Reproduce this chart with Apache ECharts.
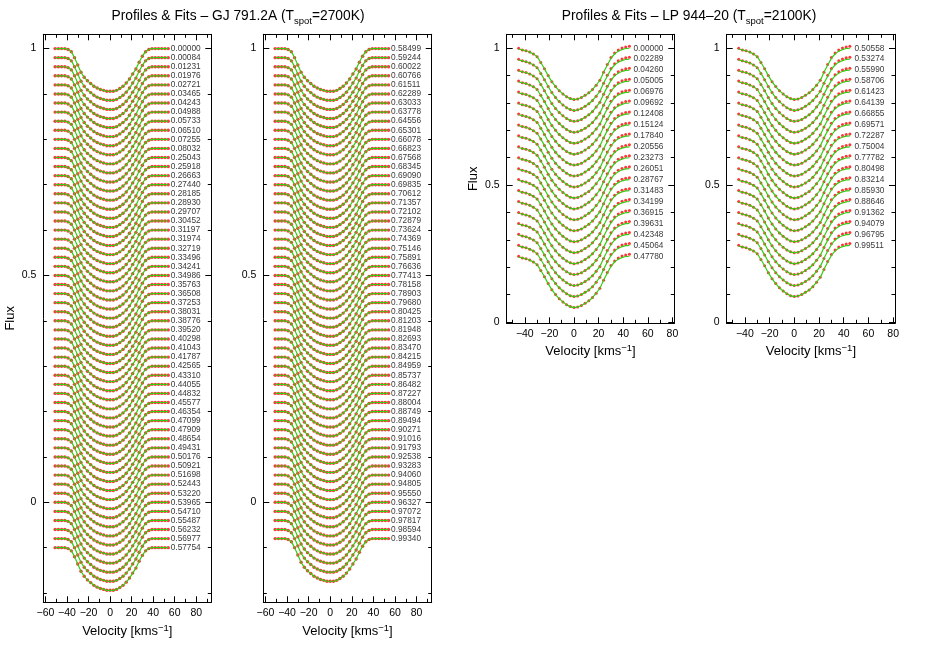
<!DOCTYPE html>
<html>
<head>
<meta charset="utf-8">
<script src="https://cdn.jsdelivr.net/npm/echarts@6.0.0/dist/echarts.min.js"></script>
<style>
  html, body { margin: 0; padding: 0; background: #fff; }
  #chart { width: 926px; height: 649px; }
</style>
</head>
<body>
<div id="chart"></div>
<script>
// rotation phases written next to each profile
const gjPhasesA = ['0.00000', '0.00084', '0.01231', '0.01976', '0.02721', '0.03465', '0.04243', '0.04988', '0.05733', '0.06510',
  '0.07255', '0.08032', '0.25043', '0.25918', '0.26663', '0.27440', '0.28185', '0.28930', '0.29707', '0.30452',
  '0.31197', '0.31974', '0.32719', '0.33496', '0.34241', '0.34986', '0.35763', '0.36508', '0.37253', '0.38031',
  '0.38776', '0.39520', '0.40298', '0.41043', '0.41787', '0.42565', '0.43310', '0.44055', '0.44832', '0.45577',
  '0.46354', '0.47099', '0.47909', '0.48654', '0.49431', '0.50176', '0.50921', '0.51698', '0.52443', '0.53220',
  '0.53965', '0.54710', '0.55487', '0.56232', '0.56977', '0.57754'];
const gjPhasesB = ['0.58499', '0.59244', '0.60022', '0.60766', '0.61511', '0.62289', '0.63033', '0.63778', '0.64556', '0.65301',
  '0.66078', '0.66823', '0.67568', '0.68345', '0.69090', '0.69835', '0.70612', '0.71357', '0.72102', '0.72879',
  '0.73624', '0.74369', '0.75146', '0.75891', '0.76636', '0.77413', '0.78158', '0.78903', '0.79680', '0.80425',
  '0.81203', '0.81948', '0.82693', '0.83470', '0.84215', '0.84959', '0.85737', '0.86482', '0.87227', '0.88004',
  '0.88749', '0.89494', '0.90271', '0.91016', '0.91793', '0.92538', '0.93283', '0.94060', '0.94805', '0.95550',
  '0.96327', '0.97072', '0.97817', '0.98594', '0.99340'];
const lpPhasesA = ['0.00000', '0.02289', '0.04260', '0.05005', '0.06976', '0.09692', '0.12408', '0.15124', '0.17840', '0.20556',
  '0.23273', '0.26051', '0.28767', '0.31483', '0.34199', '0.36915', '0.39631', '0.42348', '0.45064', '0.47780'];
const lpPhasesB = ['0.50558', '0.53274', '0.55990', '0.58706', '0.61423', '0.64139', '0.66855', '0.69571', '0.72287', '0.75004',
  '0.77782', '0.80498', '0.83214', '0.85930', '0.88646', '0.91362', '0.94079', '0.96795', '0.99511'];

// GJ 791.2A line profile: velocity (km/s) and depth below the continuum
const gjVel = [-51, -48, -45, -42, -39, -36, -33, -30, -27, -24, -21, -18, -15, -12, -9, -6, -3, 0,
  3, 6, 9, 12, 15, 18, 21, 24, 27, 30, 33, 36, 39, 42, 45, 48, 51, 54];
const gjDepth = [0, 0, 0, 0, 0.002, 0.007, 0.020, 0.036, 0.052, 0.063, 0.071, 0.077, 0.083, 0.087, 0.090, 0.092, 0.094, 0.094,
  0.094, 0.092, 0.088, 0.083, 0.076, 0.067, 0.056, 0.045, 0.030, 0.017, 0.007, 0.002, 0, 0, 0, 0, 0, 0];
const gjStep = 0.02;   // vertical shift between successive profiles

// LP 944-20 line profile: fit and observed points
const lpVel = [-45, -42, -39, -36, -33, -30, -27, -24, -21, -18, -15, -12, -9, -6, -3, 0,
  3, 6, 9, 12, 15, 18, 21, 24, 27, 30, 33, 36, 39, 42, 45];
const lpFitDepth = [0.003, 0.006, 0.009, 0.014, 0.021, 0.031, 0.052, 0.075, 0.100, 0.122, 0.140, 0.155, 0.167, 0.177, 0.184, 0.187,
  0.185, 0.180, 0.172, 0.163, 0.151, 0.135, 0.117, 0.088, 0.062, 0.038, 0.021, 0.011, 0.005, 0.001, 0.000];
const lpObsDepth = [0.000, 0.006, 0.009, 0.014, 0.021, 0.031, 0.052, 0.075, 0.100, 0.122, 0.140, 0.155, 0.167, 0.177, 0.184, 0.187,
  0.185, 0.180, 0.172, 0.163, 0.151, 0.135, 0.117, 0.088, 0.059, 0.034, 0.017, 0.006, -0.001, -0.005, -0.007];
const lpStep = 0.04;

// tick positions
const gjXMajor = [-60, -40, -20, 0, 20, 40, 60, 80];
const gjXMinor = [-50, -30, -10, 10, 30, 50, 70, 90];
const lpXMajor = [-40, -20, 0, 20, 40, 60, 80];
const lpXMinor = [-50, -30, -10, 10, 30, 50, 70];
const yMajor = [0, 0.5, 1];
const gjYMinor = [-0.2, -0.1, 0.1, 0.2, 0.3, 0.4, 0.6, 0.7, 0.8, 0.9];
const lpYMinor = [0.1, 0.2, 0.3, 0.4, 0.6, 0.7, 0.8, 0.9];

const FONT = 'Liberation Sans, Arial, Helvetica, sans-serif';
const RED = '#ff2020';
const GREEN = '#33cc11';

const panels = [
  { left: 43.3, width: 168, top: 34.3, height: 568, xr: [-62, 94], yr: [-0.2204, 1.0315],
    vel: gjVel, fit: gjDepth, obs: gjDepth, step: gjStep, phases: gjPhasesA,
    xMaj: gjXMajor, xMin: gjXMinor, yMin: gjYMinor, flux: true, labDist: 2.5, fluxGap: 26, dot: 3.4 },
  { left: 263.3, width: 168.4, top: 34.3, height: 568, xr: [-62, 94], yr: [-0.2204, 1.0315],
    vel: gjVel, fit: gjDepth, obs: gjDepth, step: gjStep, phases: gjPhasesB,
    xMaj: gjXMajor, xMin: gjXMinor, yMin: gjYMinor, flux: false, labDist: 2.5, dot: 3.4 },
  { left: 506.7, width: 167.6, top: 34.3, height: 289, xr: [-54.7, 81.5], yr: [-0.005, 1.051],
    vel: lpVel, fit: lpFitDepth, obs: lpObsDepth, step: lpStep, phases: lpPhasesA,
    xMaj: lpXMajor, xMin: lpXMinor, yMin: lpYMinor, flux: true, labDist: 4, fluxGap: 27, dot: 3 },
  { left: 726.7, width: 168.3, top: 34.3, height: 289, xr: [-54.7, 81.5], yr: [-0.005, 1.051],
    vel: lpVel, fit: lpFitDepth, obs: lpObsDepth, step: lpStep, phases: lpPhasesB,
    xMaj: lpXMajor, xMin: lpXMinor, yMin: lpYMinor, flux: false, labDist: 4.5, dot: 3 }
];

function fmtX(v) { return v < 0 ? '\u2212' + (-v) : String(v); }

const grid = [], xAxis = [], yAxis = [], series = [];

panels.forEach(function (p, k) {
  grid.push({ left: p.left, top: p.top, width: p.width, height: p.height, outerBoundsMode: 'none' });

  // bottom major, bottom minor, top major, top minor
  [['bottom', true], ['bottom', false], ['top', true], ['top', false]].forEach(function (a) {
    const withLabel = a[0] === 'bottom' && a[1];
    xAxis.push({
      type: 'value', gridIndex: k, position: a[0], min: p.xr[0], max: p.xr[1],
      axisLine: { show: a[1], onZero: false, lineStyle: { color: '#000', width: 1 } },
      axisTick: { show: true, inside: true, length: a[1] ? 6 : 3.5, customValues: a[1] ? p.xMaj : p.xMin,
        lineStyle: { color: '#000', width: 1 } },
      axisLabel: { show: withLabel, customValues: p.xMaj, formatter: fmtX, fontSize: 10.5,
        color: '#000', margin: 5, fontFamily: FONT },
      splitLine: { show: false },
      name: withLabel ? 'Velocity [kms{sup|\u22121}]' : '',
      nameLocation: 'middle', nameGap: 20,
      nameTextStyle: { fontSize: 13, color: '#000', fontFamily: FONT, lineHeight: 17,
        rich: { sup: { fontSize: 9.5, verticalAlign: 'top', lineHeight: 9, color: '#000', fontFamily: FONT } } }
    });
  });

  [['left', true], ['left', false], ['right', true], ['right', false]].forEach(function (a) {
    const withLabel = a[0] === 'left' && a[1];
    yAxis.push({
      type: 'value', gridIndex: k, position: a[0], min: p.yr[0], max: p.yr[1],
      axisLine: { show: a[1], onZero: false, lineStyle: { color: '#000', width: 1 } },
      axisTick: { show: true, inside: true, length: a[1] ? 6 : 3.5, customValues: a[1] ? yMajor : p.yMin,
        lineStyle: { color: '#000', width: 1 } },
      axisLabel: { show: withLabel, customValues: yMajor, fontSize: 10.5, color: '#000', margin: 7, fontFamily: FONT },
      splitLine: { show: false },
      name: withLabel && p.flux ? 'Flux' : '',
      nameLocation: 'middle', nameGap: p.fluxGap || 26,
      nameTextStyle: { fontSize: 13, color: '#000', fontFamily: FONT }
    });
  });

  const dots = [], fit = [], labs = [];
  p.phases.forEach(function (ph, i) {
    const cont = 1 - p.step * i;
    p.vel.forEach(function (v, j) {
      dots.push([v, cont - p.obs[j]]);
      fit.push([v, cont - p.fit[j]]);
    });
    fit.push([p.vel[p.vel.length - 1], '-']);
    labs.push({ value: [p.vel[p.vel.length - 1], cont], name: ph });
  });

  series.push({
    type: 'scatter', xAxisIndex: 4 * k, yAxisIndex: 4 * k, data: dots,
    symbol: 'circle', symbolSize: p.dot, itemStyle: { color: RED, opacity: 0.9 }, z: 2,
    silent: true, progressive: 0, large: false
  });
  series.push({
    type: 'line', xAxisIndex: 4 * k, yAxisIndex: 4 * k, data: fit,
    showSymbol: false, symbol: 'none', connectNulls: false, smooth: 0.2,
    lineStyle: { color: GREEN, width: 1.2 }, z: 3, silent: true, progressive: 0
  });
  series.push({
    type: 'scatter', xAxisIndex: 4 * k, yAxisIndex: 4 * k, data: labs,
    symbolSize: 0, z: 4, silent: true,
    label: { show: true, position: 'right', distance: p.labDist, formatter: '{b}',
      fontSize: 8.3, color: '#000', fontFamily: FONT }
  });
});

const titleRich = {
  a: { fontSize: 13.8, color: '#000', fontFamily: FONT, lineHeight: 20 },
  s: { fontSize: 9.5, color: '#000', fontFamily: FONT, verticalAlign: 'bottom', lineHeight: 11 }
};

const chart = echarts.init(document.getElementById('chart'), null, { renderer: 'canvas' });
chart.setOption({
  backgroundColor: '#fff',
  animation: false,
  textStyle: { fontFamily: FONT },
  grid: grid,
  xAxis: xAxis,
  yAxis: yAxis,
  series: series,
  graphic: [
    { type: 'text', x: 238, y: 16, silent: true,
      style: { text: '{a|Profiles & Fits \u2013 GJ 791.2A (T}{s|spot}{a|=2700K)}', align: 'center',
        verticalAlign: 'middle', rich: titleRich } },
    { type: 'text', x: 689, y: 16, silent: true,
      style: { text: '{a|Profiles & Fits \u2013 LP 944\u201320 (T}{s|spot}{a|=2100K)}', align: 'center',
        verticalAlign: 'middle', rich: titleRich } }
  ]
});
</script>
</body>
</html>
